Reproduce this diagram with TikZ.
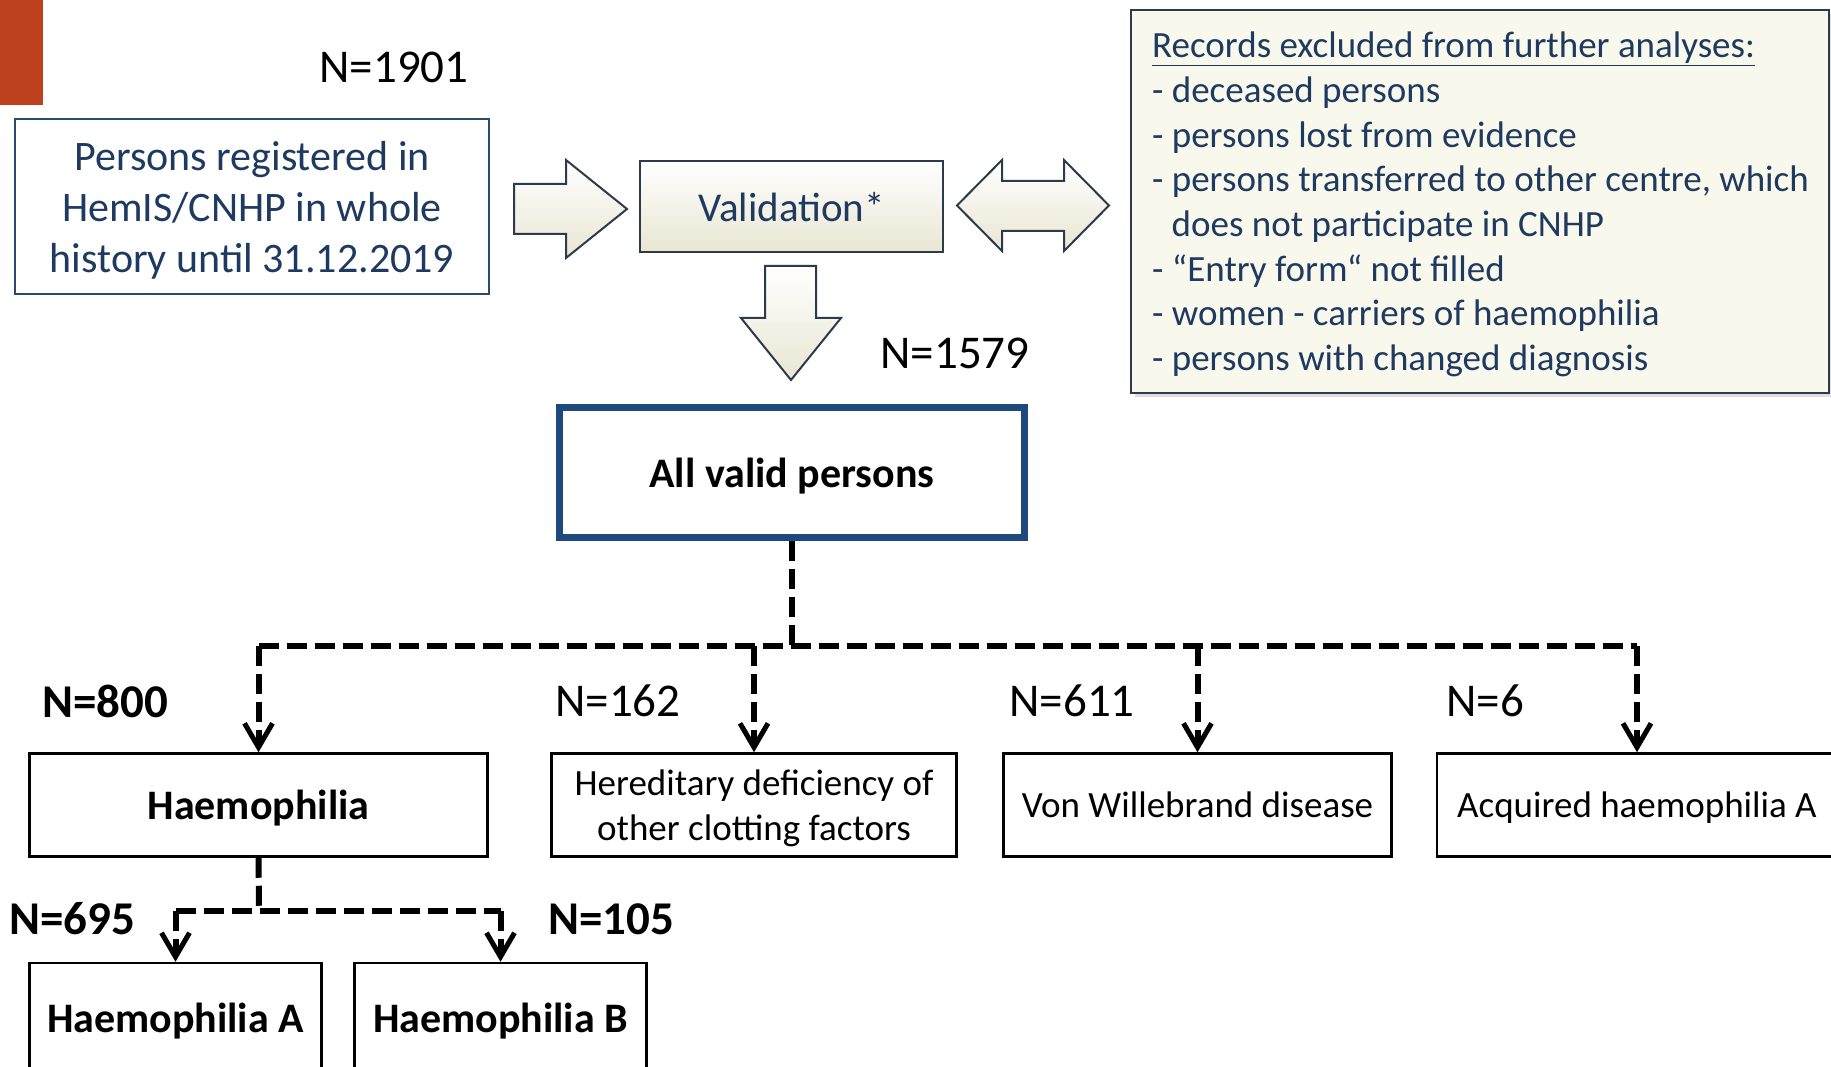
\documentclass[tikz,border=0pt]{standalone}
\usepackage{fontspec}
\setmainfont{Carlito}
\usetikzlibrary{arrows.meta}
\definecolor{navy}{HTML}{1F3A60}
\definecolor{boxblue}{HTML}{2C4A6E}
\definecolor{validblue}{HTML}{1F497D}
\definecolor{cream}{HTML}{F9F8EC}
\definecolor{creamdark}{HTML}{E9E6D2}
\definecolor{arrowline}{HTML}{2B3A4D}
\definecolor{redbar}{HTML}{BD411E}
\tikzset{
  nlabel/.style={inner sep=0pt, font=\fontsize{47}{56}\selectfont},
  nlabelb/.style={inner sep=0pt, font=\fontsize{47}{56}\selectfont\bfseries},
  exline/.style={inner sep=0pt, anchor=base west, text=navy, font=\fontsize{37}{45}\selectfont},
  catbox/.style={draw=black, line width=2.5pt, inner sep=0pt, fill=white, align=center, font=\fontsize{37}{45}\selectfont},
  catboxb/.style={catbox, text depth=0pt, font=\fontsize{42}{51}\selectfont\bfseries},
  conn/.style={line width=6pt, dash pattern=on 20pt off 8pt},
  arrowed/.style={-{Straight Barb[length=24pt,width=28pt,line width=5pt]}},
  blockarrow/.style={draw=arrowline, line width=2pt, top color=white, bottom color=creamdark, line join=miter}
}
\begin{document}
\begin{tikzpicture}[x=1pt,y=-1pt]
\useasboundingbox (0,0) rectangle (1831,1067);
\clip (0,0) rectangle (1831,1067);
% red bar
\fill[redbar] (0,0) rectangle (43,105);
% top labels
\node[nlabel] (n1901) at (394,67) {N=1901};
\node[nlabel] (n1579) at (955,353) {N=1579};
% persons box
\node[draw=boxblue, line width=2.5pt, inner sep=0pt, minimum width=474pt, minimum height=175pt] (persons) at (252,206.5) {};
\node[inner sep=0pt, align=center, text=navy, font=\fontsize{42}{51}\selectfont, yshift=-4pt] (personstext) at (persons.center)
      {Persons registered in\\HemIS/CNHP in whole\\history until 31.12.2019};
% right block arrow
\draw[blockarrow] (514,184) -- (566,184) -- (566,160) -- (627,209) -- (566,258) -- (566,234) -- (514,234) -- cycle;
% validation
\node[draw=arrowline, line width=2.5pt, top color=white, bottom color=creamdark, inner sep=0pt, text depth=0pt,
      minimum width=303pt, minimum height=91pt, text=navy, font=\fontsize{41}{50}\selectfont] (valid8) at (791.5,206.5) {Validation*};
% double arrow
\draw[blockarrow] (957,205.5) -- (1002,160) -- (1002,181) -- (1064,181) -- (1064,160) -- (1109,205.5)
   -- (1064,251) -- (1064,231) -- (1002,231) -- (1002,251) -- cycle;
% down arrow
\draw[blockarrow] (765,266) -- (816,266) -- (816,318) -- (841,318) -- (791,380) -- (741,318) -- (765,318) -- cycle;
% excluded box
\fill[gray!25] (1135,14) rectangle (1835,397);
\draw[draw=arrowline, line width=2.5pt, fill=cream] (1131,10) rectangle (1829,393);
\node[exline] (ex1) at (1152,57.5) {\underline{Records excluded from further analyses:}};
\node[exline] (ex2) at (1152,102.5) {- deceased persons};
\node[exline] (ex3) at (1152,147.5) {- persons lost from evidence};
\node[exline] (ex4) at (1152,191.5) {- persons transferred to other centre, which};
\node[exline] (ex5) at (1171.5,236.5) {does not participate in CNHP};
\node[exline] (ex6) at (1152,281.5) {- “Entry form“ not filled};
\node[exline] (ex7) at (1152,325.5) {- women - carriers of haemophilia};
\node[exline] (ex8) at (1152,370.5) {- persons with changed diagnosis};
% all valid persons
\node[draw=validblue, line width=7pt, inner sep=0pt, minimum width=465pt, minimum height=130pt, text depth=0pt,
      font=\fontsize{42}{51}\selectfont\bfseries] (valid) at (792,472.5) {All valid persons};
% category boxes
\node[catboxb, minimum width=458pt, minimum height=103pt] (haem) at (258.5,805) {Haemophilia};
\node[catbox, minimum width=405pt, minimum height=103pt] (hered) at (754,805) {};
\node[inner sep=0pt, align=center, font=\fontsize{37}{45}\selectfont, yshift=-3pt] (heredtext) at (hered.center) {Hereditary deficiency of\\other clotting factors};
\node[catbox, text depth=0pt, minimum width=388pt, minimum height=103pt] (vwd) at (1197.5,805) {Von Willebrand disease};
\node[catbox, text depth=0pt, minimum width=400pt, minimum height=103pt] (acq) at (1637,805) {Acquired haemophilia A};
\node[catboxb, minimum width=292pt, minimum height=110pt] (haemA) at (175.5,1018) {Haemophilia A};
\node[catboxb, minimum width=292pt, minimum height=110pt] (haemB) at (500.5,1018) {Haemophilia B};
% N labels
\node[nlabelb] (n800) at (105,701) {N=800};
\node[nlabel] (n162) at (618,701) {N=162};
\node[nlabel] (n611) at (1072,701) {N=611};
\node[nlabel] (n6) at (1485,701) {N=6};
\node[nlabelb] (n695) at (72,919) {N=695};
\node[nlabelb] (n105) at (611,919) {N=105};
% connectors
\coordinate (hub) at (792,646);
\draw[conn] (valid.south) -- (hub);
\draw[conn] (haem.north |- hub) -- (acq.north |- hub);
\draw[conn, arrowed] (haem.north |- hub) -- (haem.north);
\draw[conn, arrowed] (hered.north |- hub) -- (hered.north);
\draw[conn, arrowed] (vwd.north |- hub) -- (vwd.north);
\draw[conn, arrowed] (acq.north |- hub) -- (acq.north);
\coordinate (hub2) at (259,911);
\draw[conn] (haem.south) -- (hub2);
\draw[conn] (haemA.north |- hub2) -- (haemB.north |- hub2);
\draw[conn, arrowed] (haemA.north |- hub2) -- (haemA.north);
\draw[conn, arrowed] (haemB.north |- hub2) -- (haemB.north);
\end{tikzpicture}
\end{document}
